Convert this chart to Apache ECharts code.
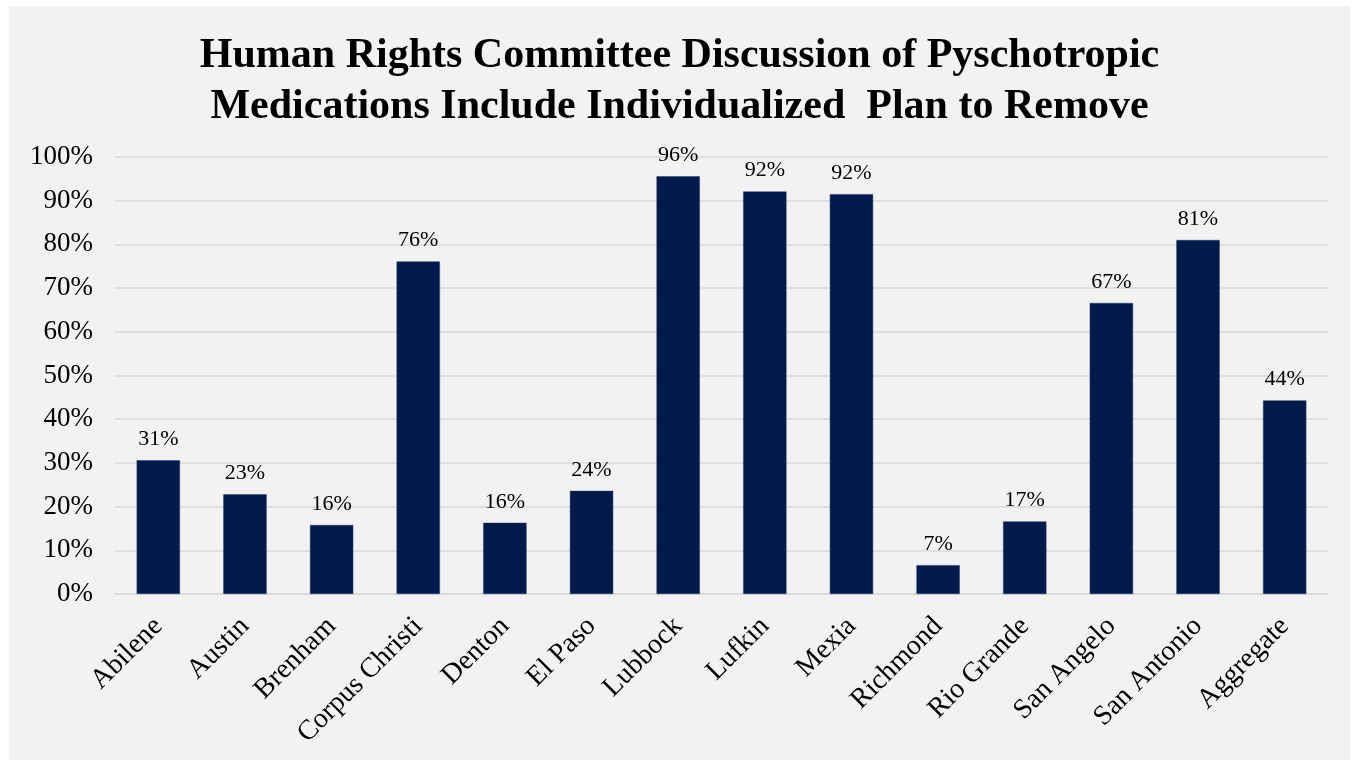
<!DOCTYPE html>
<html>
<head>
<meta charset="utf-8">
<script src="https://cdn.jsdelivr.net/npm/echarts@6/dist/echarts.min.js"></script>
<style>
  html, body { margin: 0; padding: 0; background: #ffffff; }
  #box { position: absolute; left: 9px; top: 6px; width: 1341px; height: 754px; background: #f2f2f2; }
</style>
</head>
<body>
<div id="box"></div>
<script>
var categories = ['Abilene', 'Austin', 'Brenham', 'Corpus Christi', 'Denton', 'El Paso', 'Lubbock',
                  'Lufkin', 'Mexia', 'Richmond', 'Rio Grande', 'San Angelo', 'San Antonio', 'Aggregate'];
// share of discussions that include an individualized plan to remove (0..1)
var values = [0.306, 0.228, 0.158, 0.761, 0.163, 0.236, 0.956, 0.921, 0.915, 0.066, 0.166, 0.666, 0.810, 0.443];
var yTicks = [0, 0.1, 0.2, 0.3, 0.4, 0.5, 0.6, 0.7, 0.8, 0.9, 1.0];

var serif = '"Liberation Serif", "Times New Roman", serif';

var chart = echarts.init(document.getElementById('box'));
var option = {
    backgroundColor: '#f2f2f2',
    title: {
        text: 'Human Rights Committee Discussion of Pyschotropic\nMedications Include Individualized  Plan to Remove',
        left: 'center',
        top: 20,
        textStyle: {
            fontFamily: serif,
            fontWeight: 'bold',
            fontSize: 42,
            lineHeight: 51,
            color: '#000'
        }
    },
    grid: {
        left: 106,
        right: 22,
        top: 151,
        bottom: 166
    },
    xAxis: {
        type: 'category',
        data: categories,
        axisTick: { show: false },
        axisLine: { show: true, lineStyle: { color: '#d9d9d9', width: 1.5 } },
        axisLabel: {
            interval: 0,
            rotate: 45,
            margin: 28,
            fontFamily: serif,
            fontSize: 28,
            color: '#000'
        }
    },
    yAxis: {
        type: 'value',
        min: 0,
        max: 1,
        interval: 0.1,
        axisLine: { show: false },
        axisTick: { show: false },
        splitLine: { lineStyle: { color: '#d9d9d9', width: 1.5 } },
        axisLabel: {
            margin: 22,
            fontFamily: serif,
            fontSize: 27,
            color: '#000',
            customValues: yTicks,
            formatter: function (v) { return Math.round(v * 100) + '%'; }
        }
    },
    series: [
        {
            type: 'bar',
            data: values,
            barWidth: '50%',
            itemStyle: { color: '#011a4b', borderColor: '#2b3d66', borderWidth: 0.5 },
            label: {
                show: true,
                position: 'top',
                distance: 10,
                fontFamily: serif,
                fontSize: 22,
                color: '#000',
                formatter: function (p) { return Math.round(p.value * 100) + '%'; }
            }
        }
    ]
};
chart.setOption(option);
</script>
</body>
</html>
